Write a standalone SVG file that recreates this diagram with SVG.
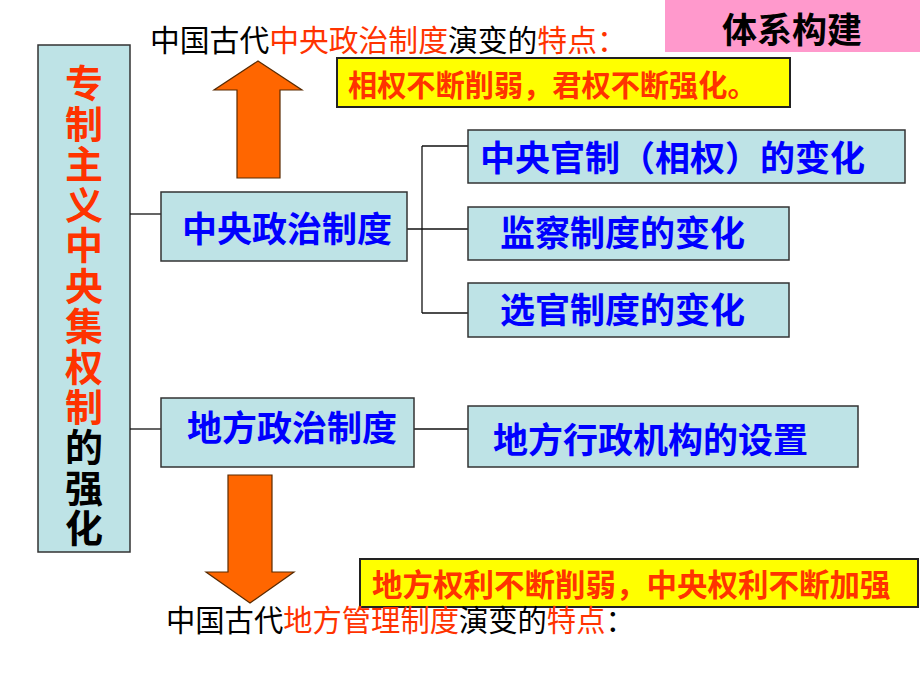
<svg xmlns="http://www.w3.org/2000/svg" width="920" height="690" viewBox="0 0 920 690">
<style>
.box{fill:#BEE3E6;stroke:#333;stroke-width:1.5}
.yel{fill:#FFFF00;stroke:#222;stroke-width:2}
.arrow{fill:#FF6600;stroke:#5a2a00;stroke-width:1.2}
.conn{stroke:#111;stroke-width:1.3;fill:none}
.hei{font-family:"Noto Sans CJK SC","Noto Sans CJK TC",sans-serif;font-weight:bold}
.song{font-family:"Noto Sans CJK SC","Noto Sans CJK TC",sans-serif;font-weight:normal}
.blue{fill:#0000FF;font-size:35px}
.red{fill:#FF3300}
.blk{fill:#000}
</style>
<rect width="920" height="690" fill="#fff"/>

<g id="header">
  <rect x="665" y="0" width="255" height="52" fill="#FF99CC"/>
  <text x="722" y="43" class="hei blk" font-size="35">体系构建</text>
</g>

<g id="title-top">
  <text x="150" y="51" class="song" font-size="29.8"><tspan class="blk">中国古代</tspan><tspan class="red">中央政治制度</tspan><tspan class="blk">演变的</tspan><tspan class="red">特点：</tspan></text>
</g>

<g id="summary-top">
  <rect x="337" y="58" width="453" height="49" class="yel"/>
  <text x="348" y="96" class="hei red" font-size="29.2">相权不断削弱，君权不断强化。</text>
</g>

<g id="arrow-up">
  <polygon class="arrow" points="258,61 302,90 280,90 280,178 237,178 237,90 214,90"/>
</g>

<g id="root">
  <rect x="38" y="45" width="92" height="507" class="box"/>
  <text x="84" y="64" class="hei" font-size="38" writing-mode="vertical-rl" style="letter-spacing:2.45px"><tspan class="red">专制主义中央集权制</tspan><tspan class="blk">的强化</tspan></text>
</g>

<g id="connectors">
  <line class="conn" x1="130" y1="214" x2="161" y2="214"/>
  <line class="conn" x1="130" y1="429" x2="161" y2="429"/>
  <line class="conn" x1="407" y1="229" x2="468" y2="229" stroke-width="2"/>
  <line class="conn" x1="422" y1="146" x2="422" y2="313"/>
  <line class="conn" x1="422" y1="146" x2="468" y2="146"/>
  <line class="conn" x1="422" y1="313" x2="468" y2="313"/>
  <line class="conn" x1="414" y1="429" x2="468" y2="429"/>
</g>

<g id="central">
  <rect x="161" y="192" width="246" height="69" class="box"/>
  <text x="182" y="242" class="hei blue">中央政治制度</text>
</g>

<g id="local">
  <rect x="161" y="398" width="253" height="69" class="box"/>
  <text x="187" y="441" class="hei blue">地方政治制度</text>
</g>

<g id="central-officials">
  <rect x="468" y="130" width="437" height="53" class="box"/>
  <text x="480" y="171" class="hei blue" font-size="35.4">中央官制（相权）的变化</text>
</g>

<g id="supervision">
  <rect x="468" y="207" width="321" height="53" class="box"/>
  <text x="500" y="246" class="hei blue" font-size="35.4">监察制度的变化</text>
</g>

<g id="selection">
  <rect x="468" y="283" width="321" height="54" class="box"/>
  <text x="500" y="323" class="hei blue" font-size="35.4">选官制度的变化</text>
</g>

<g id="local-admin">
  <rect x="468" y="406" width="390" height="61" class="box"/>
  <text x="493" y="453" class="hei blue" font-size="35.4">地方行政机构的设置</text>
</g>

<g id="arrow-down">
  <polygon class="arrow" points="228,475 272,475 272,572 294,572 250,603 206,572 228,572"/>
</g>

<g id="summary-bottom">
  <rect x="360" y="559" width="558" height="48" class="yel"/>
  <text x="372" y="596" class="hei red" font-size="30.5">地方权利不断削弱，中央权利不断加强</text>
</g>

<g id="title-bottom">
  <text x="166" y="631" class="song" font-size="29.3"><tspan class="blk">中国古代</tspan><tspan class="red">地方管理制度</tspan><tspan class="blk">演变的</tspan><tspan class="red">特点</tspan><tspan class="blk">：</tspan></text>
</g>
</svg>
